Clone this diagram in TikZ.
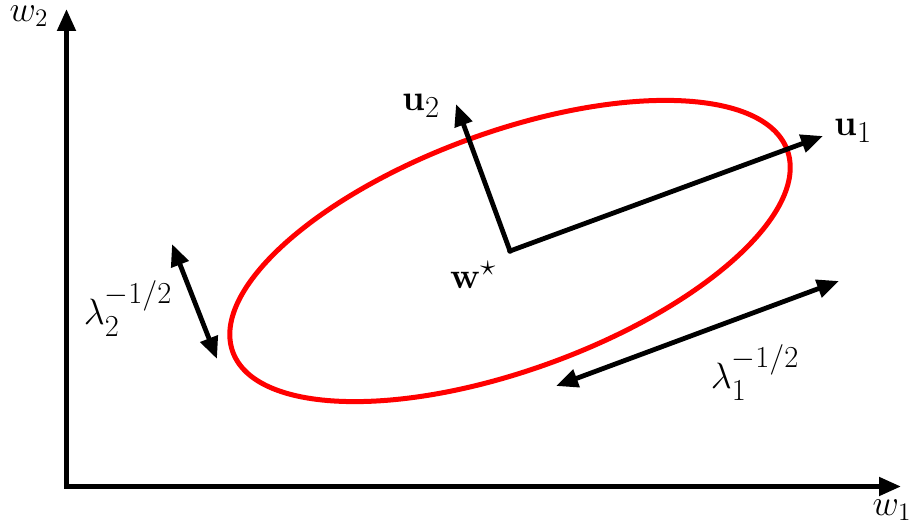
\documentclass[tikz,border=0pt]{standalone}
\usepackage{amsmath}
\usepackage{graphicx}
\usetikzlibrary{arrows.meta}
\newcommand{\biglbl}[1]{\scalebox{1.47}{\Huge #1}}
\newcommand{\axlbl}[1]{\scalebox{1.75}{\huge #1}}
\begin{document}
\begin{tikzpicture}[x=1pt,y=-1pt,
  lbl/.style={inner sep=0pt},
  vec/.style={line width=4.8pt,-{Triangle[length=22pt,width=18pt]}},
  dbl/.style={line width=4.8pt,{Triangle[length=22pt,width=18pt]}-{Triangle[length=22pt,width=18pt]}},
  ell/.style={draw=red,line width=5pt}]
\useasboundingbox (0,0) rectangle (921,529);
% axes
\coordinate (O) at (66.5,486.5);
\coordinate (Ytip) at (66.5,9);
\coordinate (Xtip) at (901,486.5);
\draw[vec,line cap=rect] (O) -- (Ytip);
\draw[vec,line cap=rect] (O) -- (Xtip);
\node[lbl] (w2) at (29,16) {\axlbl{$w_2$}};
\node[lbl] (w1) at (892,510) {\axlbl{$w_1$}};
% ellipse
\coordinate (C) at (510,251);
\draw[ell,rotate around={20:(C)}] (C) ellipse [x radius=295, y radius=119];
% eigenvectors
\coordinate (U1) at (823,136);
\coordinate (U2) at (456,104);
\draw[vec] (C) -- (U1);
\draw[vec] (C) -- (U2);
\fill (C) circle (2.8pt);
\node[lbl] (u1) at (853,131) {\biglbl{$\mathbf{u}_1$}};
\node[lbl] (u2) at (421,106) {\biglbl{$\mathbf{u}_2$}};
\node[lbl] (ws) at (473,275) {\biglbl{$\mathbf{w}^\star$}};
% lambda arrows
\coordinate (L2a) at (172,244);
\coordinate (L2b) at (217,359);
\draw[dbl] (L2a) -- (L2b);
\coordinate (L1a) at (556,386);
\coordinate (L1b) at (839,281);
\draw[dbl] (L1a) -- (L1b);
\node[lbl] (l2) at (128,309) {\biglbl{$\lambda_2^{-1/2}$}};
\node[lbl] (l1) at (755,373) {\biglbl{$\lambda_1^{-1/2}$}};
\end{tikzpicture}
\end{document}
